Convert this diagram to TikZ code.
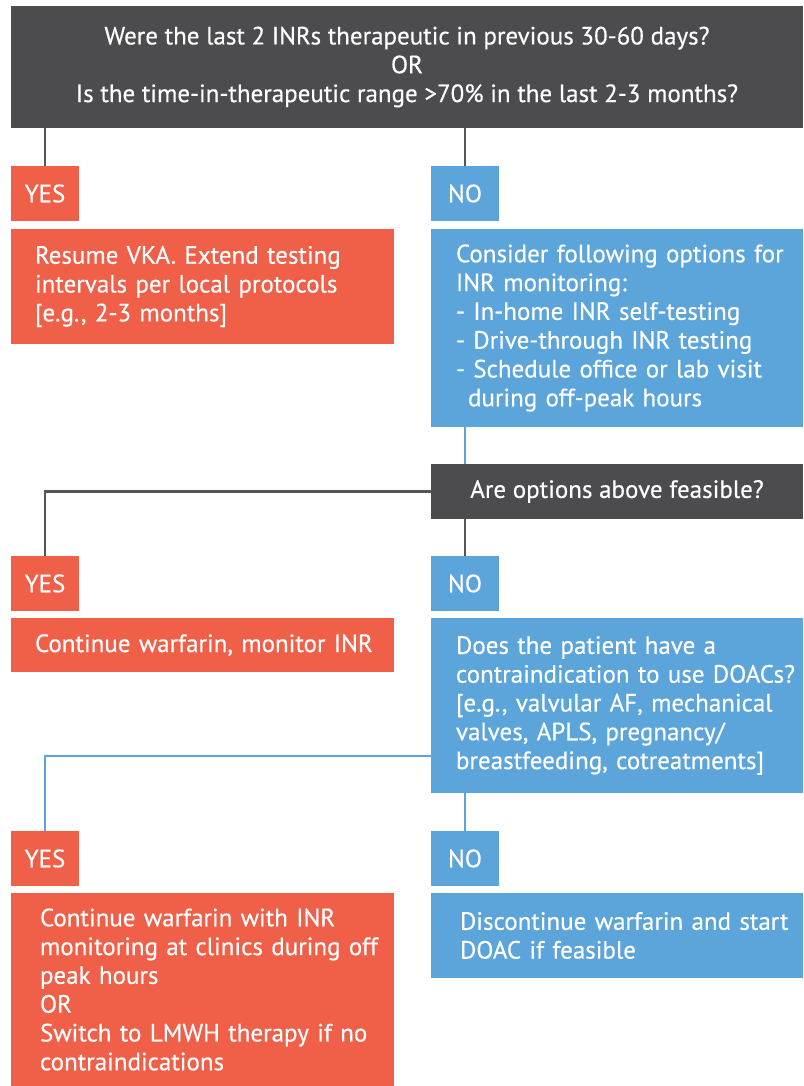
\documentclass[tikz,border=0pt]{standalone}
\usepackage{fontspec}
\setmainfont{PT Sans}[FakeBold=0.4]
\definecolor{qgray}{HTML}{4C4C4E}
\definecolor{yesred}{HTML}{F05F48}
\definecolor{noblue}{HTML}{5CA5DA}
\begin{document}
\begin{tikzpicture}[x=1pt, y=-1pt, font=\fontsize{25}{28.8}\selectfont,
  box/.style={anchor=north west, text=white, inner ysep=0pt, outer sep=0pt},
  qbox/.style={box, fill=qgray, align=center},
  padleft/.style={inner xsep=0pt, align=left, execute at begin node={\leftskip=#1}},
  redbox/.style={box, fill=yesred},
  bluebox/.style={box, fill=noblue},
  tag/.style={box, minimum width=68pt, minimum height=55pt, inner xsep=0pt},
  darkline/.style={draw=qgray!95!white, line width=2.5pt},
  blueline/.style={draw=noblue, line width=2pt}]
\useasboundingbox (0,0) rectangle (803,1086);
\node[qbox, minimum width=792pt, minimum height=122pt] (q1) at (11,6)
  {Were the last 2 INRs therapeutic in previous 30-60 days?\\OR\\Is the time-in-therapeutic range >70\% in the last 2-3 months?};
\node[tag, fill=yesred] (yes1) at (11,166) {YES};
\node[tag, fill=noblue] (no1) at (431,166) {NO};
\node[redbox, text width=383pt, padleft=24pt, minimum height=115pt] (resume) at (11,229)
  {Resume VKA. Extend testing\\intervals per local protocols\\{[e.g., 2-3 months]}};
\node[bluebox, text width=372pt, padleft=25pt, minimum height=198pt] (options) at (431,229)
  {Consider following options for\\INR monitoring:\\- In-home INR self-testing\\- Drive-through INR testing\\- Schedule office or lab visit\\\hspace*{12pt}during off-peak hours};
\node[qbox, minimum width=372pt, minimum height=55pt] (q2) at (431,464) {Are options above feasible?};
\node[tag, fill=yesred] (yes2) at (11,556) {YES};
\node[tag, fill=noblue] (no2) at (431,556) {NO};
\node[redbox, text width=383pt, padleft=24pt, minimum height=54pt] (monitor) at (11,618)
  {Continue warfarin, monitor INR};
\node[bluebox, text width=372pt, padleft=25pt, minimum height=175pt] (doac) at (431,618)
  {Does the patient have a\\contraindication to use DOACs?\\{[e.g., valvular AF, mechanical}\\valves, APLS, pregnancy/\\breastfeeding, cotreatments]};
\node[tag, fill=yesred] (yes3) at (11,831) {YES};
\node[tag, fill=noblue] (no3) at (431,831) {NO};
\node[redbox, text width=383pt, padleft=29pt, minimum height=193pt] (clinic) at (11,893)
  {Continue warfarin with INR\\monitoring at clinics during off\\peak hours\\OR\\Switch to LMWH therapy if no\\contraindications};
\node[bluebox, text width=372pt, padleft=29pt, minimum height=85pt] (stop) at (431,893)
  {Discontinue warfarin and start\\DOAC if feasible};
% connectors
\draw[darkline] (q1.south -| yes1) -- (yes1.north);
\draw[darkline] (q1.south -| no1) -- (no1.north);
\draw[blueline] (options.south -| no1) -- (q2.north -| no1);
\draw[darkline] (q2.west) -| (yes2.north);
\draw[darkline] (q2.south -| no2) -- (no2.north);
\draw[blueline] ([yshift=37pt]doac.south west) -| (yes3.north);
\draw[blueline] (doac.south -| no3) -- (no3.north);
\end{tikzpicture}
\end{document}
